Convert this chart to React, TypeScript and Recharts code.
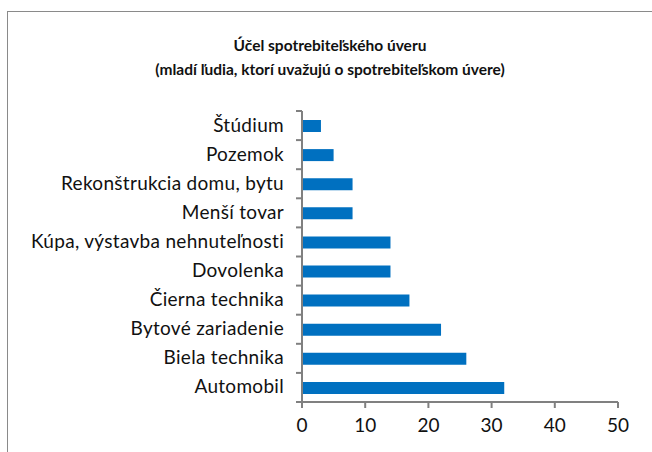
import { BarChart, Bar, XAxis, YAxis, ReferenceLine } from "recharts";

const categories = [
  "Štúdium",
  "Pozemok",
  "Rekonštrukcia domu, bytu",
  "Menší tovar",
  "Kúpa, výstavba nehnuteľnosti",
  "Dovolenka",
  "Čierna technika",
  "Bytové zariadenie",
  "Biela technika",
  "Automobil",
];
const values = [3, 5, 8, 8, 14, 14, 17, 22, 26, 32];
const xTicks = [0, 10, 20, 30, 40, 50];

const titleLines = [
  "Účel spotrebiteľského úveru",
  "(mladí ľudia, ktorí uvažujú o spotrebiteľskom úvere)",
];

const data = categories.map((name, i) => ({ name, value: values[i] }));

const FONT = "Lato, 'Open Sans', sans-serif";
const AXIS = "#808080";
const BAND = 29.1;

// category label + Excel-style tick at the band boundary
function CategoryTick(props: any) {
  const { x, y, payload, index } = props;
  const last = index === categories.length - 1;
  return (
    <g>
      <line x1={x - 6} x2={x} y1={y - BAND / 2} y2={y - BAND / 2} stroke={AXIS} strokeWidth={2} />
      {last && (
        <line x1={x - 6} x2={x} y1={y + BAND / 2} y2={y + BAND / 2} stroke={AXIS} strokeWidth={2} />
      )}
      <text
        x={x - 18}
        y={y}
        dy={6}
        textAnchor="end"
        fill="#111"
        fontSize={19}
        letterSpacing={0.3}
        fontFamily={FONT}
      >
        {payload.value}
      </text>
    </g>
  );
}

export default function App() {
  return (
    <div style={{ position: "absolute", left: 0, top: 0, width: 652, height: 452, overflow: "hidden" }}>
      <BarChart
        width={652}
        height={452}
        data={data}
        layout="vertical"
        margin={{ top: 111, right: 34, bottom: 20, left: 0 }}
        barSize={12}
      >
        <XAxis
          type="number"
          domain={[0, 50]}
          ticks={xTicks}
          interval={0}
          height={30}
          stroke={AXIS}
          axisLine={{ stroke: AXIS, strokeWidth: 2 }}
          tickLine={{ stroke: AXIS, strokeWidth: 2 }}
          tickSize={6}
          tickMargin={11}
          tick={{ fill: "#111", fontSize: 19, fontFamily: FONT }}
        />
        <YAxis
          type="category"
          dataKey="name"
          width={302}
          interval={0}
          stroke={AXIS}
          axisLine={{ stroke: AXIS, strokeWidth: 2 }}
          tickLine={false}
          tickSize={0}
          tickMargin={0}
          tick={<CategoryTick />}
        />
        <ReferenceLine x={0} stroke={AXIS} strokeWidth={2} ifOverflow="visible" />
        <Bar dataKey="value" fill="#0070C0" isAnimationActive={false} />
      </BarChart>
      <div
        style={{
          position: "absolute",
          left: 7,
          top: 11,
          width: 700,
          height: 500,
          border: "1.5px solid #8a8a8a",
          pointerEvents: "none",
        }}
      />
      <div
        style={{
          position: "absolute",
          left: 10,
          top: 33,
          width: 640,
          textAlign: "center",
          fontFamily: FONT,
          fontWeight: 700,
          fontSize: 15.5,
          lineHeight: "24px",
          color: "#111",
        }}
      >
        {titleLines.map((t) => (
          <div key={t}>{t}</div>
        ))}
      </div>
    </div>
  );
}
